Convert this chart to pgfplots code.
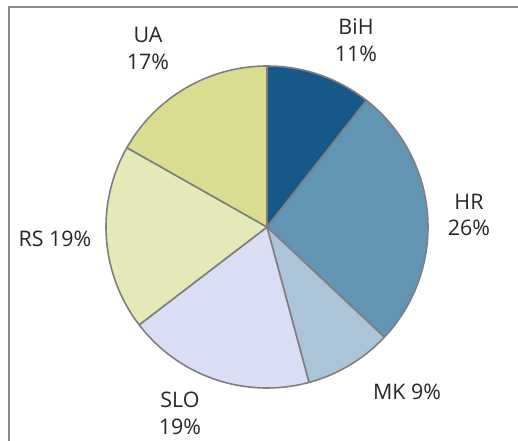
\documentclass[border=0pt]{standalone}
\usepackage{pgfplots}
\usepackage{pgfplotstable}
\pgfplotsset{compat=1.18}
\usepackage{fontspec}
\setmainfont{Open Sans}
\definecolor{slice0}{HTML}{16588A}
\definecolor{slice1}{HTML}{6294B4}
\definecolor{slice2}{HTML}{ACC4D8}
\definecolor{slice3}{HTML}{DADEF5}
\definecolor{slice4}{HTML}{E5E8B7}
\definecolor{slice5}{HTML}{DADD8F}
\definecolor{edgegray}{HTML}{7F7F7F}
\definecolor{framegray}{HTML}{8A8A8A}
\definecolor{txt}{HTML}{262626}

\pgfplotstableread{
name pct
BiH 10.6
HR  26.4
MK  8.8
SLO 18.8
RS  18.6
UA  16.8
}\piedata

\begin{document}
\begin{tikzpicture}
\useasboundingbox (0,0) rectangle (518bp,441bp);
\fill[white] (0,0) rectangle (518bp,441bp);
\draw[framegray, line width=2.2bp] (9bp,-5bp) -- (9bp,434bp) -- (530bp,434bp);
\begin{axis}[
  hide axis,
  x=161bp, y=161bp,
  xmin=-1.1, xmax=1.1, ymin=-1.1, ymax=1.1,
  anchor=origin, at={(267bp,214bp)},
  clip=false,
]
\xdef\cum{0}
\pgfplotsinvokeforeach{0,...,5}{
  \pgfplotstablegetelem{#1}{pct}\of\piedata
  \let\v\pgfplotsretval
  \pgfmathsetmacro\a{90-3.6*\cum}
  \pgfmathsetmacro\b{90-3.6*(\cum+\v)}
  \pgfmathsetmacro\newcum{\cum+\v}
  \xdef\cum{\newcum}
  \edef\temp{\noexpand\addplot[fill=slice#1, draw=edgegray, line width=1.6bp, line join=round, domain=\b:\a, samples=60, variable=\noexpand\t] ({cos(\noexpand\t)},{sin(\noexpand\t)}) -- (axis cs:0,0) -- cycle;}
  \temp
}
\end{axis}
\begin{scope}[every node/.style={text=txt, align=center, font=\fontsize{21.5}{27}\selectfont}]
\node at (356bp,401bp) {BiH\\11\%};
\node at (469bp,226bp) {HR\\26\%};
\node at (407bp,49bp) {MK 9\%};
\node at (180bp,28bp) {SLO\\19\%};
\node at (55bp,202bp) {RS 19\%};
\node at (148bp,393bp) {UA\\17\%};
\end{scope}
\end{tikzpicture}
\end{document}
